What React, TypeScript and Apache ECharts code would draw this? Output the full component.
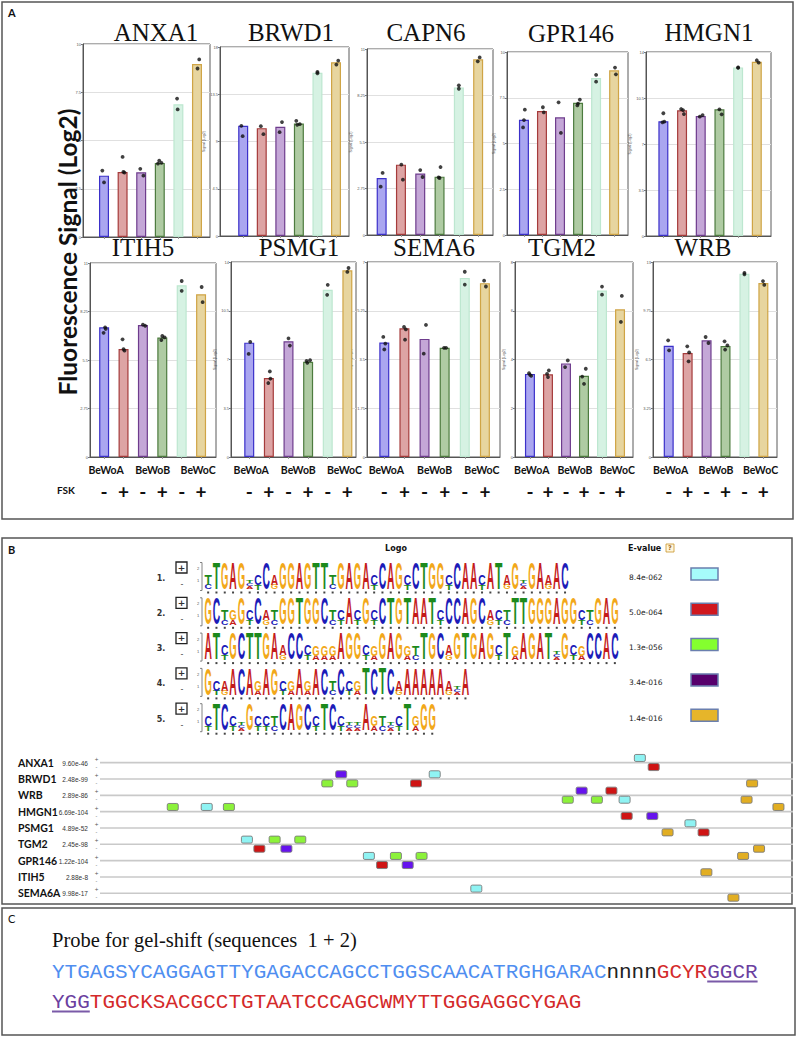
import React, { useEffect, useRef } from "react";
import * as echarts from "echarts";

// ---------------- Panel A data ----------------
const GENES = ["ANXA1", "BRWD1", "CAPN6", "GPR146", "HMGN1", "ITIH5", "PSMG1", "SEMA6", "TGM2", "WRB"];
const GROUPS = ["BeWoA", "BeWoB", "BeWoC"];
const FSK = ["-", "+", "-", "+", "-", "+"];
const Y_MAX = [10, 18, 11, 10, 14, 11, 14, 7, 8, 13];
const Y_STEP = [2.5, 4.5, 2.75, 2.5, 3.5, 2.75, 3.5, 1.75, 2, 3.25];

const ANXA1 = [3.18, 3.37, 3.35, 3.84, 6.88, 8.96];
const BRWD1 = [10.49, 10.27, 10.4, 10.72, 15.54, 16.55];
const CAPN6 = [3.37, 4.16, 3.64, 3.45, 8.73, 10.39];
const GPR146 = [6.3, 6.78, 6.43, 7.23, 8.58, 9.0];
const HMGN1 = [8.73, 9.56, 9.13, 9.64, 12.83, 13.26];
const ITIH5 = [7.35, 6.12, 7.48, 6.78, 9.74, 9.23];
const PSMG1 = [8.21, 5.67, 8.31, 6.83, 12.0, 13.4];
const SEMA6 = [4.11, 4.62, 4.24, 3.92, 6.43, 6.24];
const TGM2 = [3.41, 3.39, 3.84, 3.33, 6.83, 6.06];
const WRB = [7.42, 6.93, 7.78, 7.4, 12.22, 11.6];

// replicate points: [bar index + jitter, value]
const ANXA1_PTS = [[-0.09, 3.44], [0, 2.83], [1, 4.15], [1.04, 3.37], [1.1, 3.34], [1.95, 3.53], [2.12, 3.18], [2.9, 3.8], [2.97, 3.96], [3.09, 3.84], [3.93, 7.17], [3.96, 6.61], [5.12, 9.2], [5.03, 8.73]];
const BRWD1_PTS = [[-0.1, 10.49], [-0.03, 9.51], [0.95, 10.46], [1.09, 9.7], [2.09, 10.85], [1.96, 9.89], [2.86, 10.97], [2.91, 10.59], [3.05, 10.65], [4, 15.62], [4, 15.5], [5.12, 16.71], [5.02, 16.33]];
const CAPN6_PTS = [[0.05, 3.67], [-0.05, 2.86], [1.02, 4.16], [1.1, 3.27], [2, 3.84], [2.12, 3.43], [3.05, 4.02], [2.95, 3.41], [3, 3.37], [4, 8.85], [4, 8.65], [5.08, 10.5], [4.98, 10.27]];
const GPR146_PTS = [[0.05, 6.85], [-0.05, 5.88], [0, 6.28], [1.05, 6.98], [1.1, 6.7], [1.92, 7.25], [2.05, 5.58], [3.1, 7.4], [2.96, 7.08], [3, 7.18], [4, 8.75], [4, 8.38], [5.05, 9.15], [5.1, 8.78]];
const HMGN1_PTS = [[0, 9.34], [-0.05, 8.65], [0.05, 8.7], [0.95, 9.66], [1.1, 9.28], [1.05, 9.58], [1.95, 9.08], [2.1, 9.2], [3, 9.64], [3.12, 9.26], [4, 12.83], [4, 12.8], [5, 13.37], [5.1, 13.19]];
const ITIH5_PTS = [[0.05, 7.35], [-0.03, 7.04], [0.08, 7.26], [0.95, 6.67], [1, 6.12], [1.05, 6.03], [2, 7.5], [2.12, 7.44], [3, 6.86], [2.95, 6.63], [3.12, 6.78], [4, 9.98], [4, 9.42], [5.03, 9.64], [5.08, 8.78]];
const PSMG1_PTS = [[0.05, 8.26], [-0.03, 7.4], [1.05, 6.14], [0.97, 5.31], [1.08, 5.62], [2, 8.52], [2.07, 8.0], [2.92, 6.9], [2.96, 6.76], [3.1, 6.95], [4, 12.36], [3.97, 11.64], [5.06, 13.57], [5, 13.29]];
const SEMA6_PTS = [[-0.05, 4.31], [0, 3.86], [0.05, 4.07], [0.98, 4.67], [1.03, 4.21], [1.07, 4.58], [2.07, 4.74], [1.96, 3.71], [2.97, 3.92], [3.07, 3.92], [4, 6.65], [4, 6.19], [4.96, 6.33], [5.05, 6.12]];
const TGM2_PTS = [[-0.05, 3.44], [0, 3.37], [0.07, 3.33], [1.05, 3.55], [0.95, 3.41], [1, 3.28], [2.1, 3.96], [1.95, 3.69], [3.1, 3.62], [2.9, 3.3], [3, 3.0], [4, 6.99], [4, 6.66], [5.1, 6.61], [5.05, 5.54]];
const WRB_PTS = [[-0.03, 7.78], [0.02, 7.11], [0.98, 7.38], [1.05, 6.38], [1.08, 6.98], [1.95, 8.0], [2.1, 7.6], [2.95, 7.71], [2.98, 7.16], [3.1, 7.44], [4, 12.27], [4, 12.18], [4.98, 11.73], [5.05, 11.47]];

const BARS = [ANXA1, BRWD1, CAPN6, GPR146, HMGN1, ITIH5, PSMG1, SEMA6, TGM2, WRB];
const POINTS = [ANXA1_PTS, BRWD1_PTS, CAPN6_PTS, GPR146_PTS, HMGN1_PTS, ITIH5_PTS, PSMG1_PTS, SEMA6_PTS, TGM2_PTS, WRB_PTS];

// ---------------- Panel B data ----------------
const MOTIF_LOGOS = [
  "tTGAG.cCaGGAGTTtGAGAcCAGcCTGGcCAAcATaG.GAaAC",
  "GCtgGcCatGGTGGCtcAcGcCTGTAATcCCAGCactTTGGGAGGctGAG",
  "ATcGCTTGAaCCcgggAGGcgGAGgtTGCaGTGAGcTgAGAT.GcgCCAC",
  "GcaACAgAGcgAgACtCcgTCTCaAAAAAa.A",
  "cTCc.GcctCAGCcTCc..Agt.cTgGG",
];
const E_VALUES = ["8.4e-062", "5.0e-064", "1.3e-056", "3.4e-016", "1.4e-016"];
const SITE_GENES = ["ANXA1", "BRWD1", "WRB", "HMGN1", "PSMG1", "TGM2", "GPR146", "ITIH5", "SEMA6A"];
const SITE_PVALUES = ["9.60e-46", "2.48e-99", "2.89e-86", "6.69e-104", "4.89e-52", "2.45e-98", "1.22e-104", "2.88e-8", "9.98e-17"];
// [position, gene index, strand (+1 above / -1 below), motif index]
const SITES = [
  [779, 0, 1, 0], [799, 0, -1, 1],
  [328, 1, -1, 2], [348, 1, 1, 3], [364, 1, -1, 2], [456, 1, -1, 1], [483, 1, 1, 0], [941, 1, -1, 4],
  [675, 2, -1, 2], [695, 2, 1, 3], [717, 2, -1, 2], [738, 2, 1, 1], [757, 2, -1, 0], [933, 2, -1, 4],
  [105, 3, 1, 2], [154, 3, 1, 0], [186, 3, 1, 2], [760, 3, -1, 1], [797, 3, -1, 3], [979, 3, 1, 4],
  [819, 4, -1, 4], [852, 4, 1, 0], [871, 4, -1, 1],
  [212, 5, 1, 0], [230, 5, -1, 1], [252, 5, 1, 2], [269, 5, -1, 3], [289, 5, 1, 2], [951, 5, -1, 4],
  [388, 6, 1, 0], [407, 6, -1, 1], [427, 6, 1, 2], [444, 6, -1, 3], [464, 6, 1, 2], [928, 6, 1, 4],
  [875, 7, 1, 4],
  [543, 8, 1, 0], [914, 8, -1, 4],
];

// ---------------- Panel C data ----------------
const SEQ_LINE1 = [
  ["YTGAGSYCAGGAGTTYGAGACCAGCCTGGSCAACATRGHGARAC", "#4f8ef0", 0],
  ["nnnn", "#222222", 0],
  ["GCYR", "#d42a2a", 0],
  ["GGCR", "#6b3fa0", 1],
];
const SEQ_LINE2 = [
  ["YGG", "#6b3fa0", 1],
  ["TGGCKSACGCCTGTAATCCCAGCWMYTTGGGAGGCYGAG", "#d42a2a", 0],
];

// ---------------- styling / layout ----------------
const FILL = ["#aaa6f0", "#dda4a4", "#c4a7d7", "#afcba3", "#d6f2e3", "#e7d59f"];
const EDGE = ["#3b30c9", "#a53b3b", "#6e3c8d", "#4d7b3f", "#bde7d0", "#cfa445"];
const GRID_BOX = [
  [83, 44, 210, 237], [220, 47, 349, 236], [367, 49, 493, 235], [507, 52, 628, 235], [646, 52, 771, 236],
  [90, 263, 216, 457], [231, 262, 356, 457], [367, 262, 500, 457], [515, 262, 633, 457], [653, 262, 777, 457],
];
const X_RANGE = [
  [-1.13, 5.7], [-1.25, 5.7], [-0.76, 5.77], [-0.94, 5.77], [-0.93, 5.76],
  [-0.73, 5.77], [-0.93, 5.44], [-0.86, 5.75], [-0.83, 5.72], [-0.83, 5.72],
];
const TITLE_POS = [[156, 32], [291, 32], [426, 32], [571, 33], [709, 32], [143, 247], [299, 247], [434, 247], [562, 247], [703, 247]];
const GROUP_X = [0.1, 2.5, 4.85];
const LETTER_COLOR: Record<string, string> = { A: "#c41a1a", C: "#1c1cb8", G: "#f2a81a", T: "#1c8a1c" };
const LETTER_NAT_W: Record<string, number> = { A: 8.66, C: 8.66, G: 9.34, T: 7.33 };
const COMP: Record<string, string> = { A: "G", C: "T", G: "A", T: "C" };
const SITE_COLORS = ["#8ff3f3", "#cf1414", "#8cf23a", "#6612ee", "#e2ae22"];
const LEGEND_COLORS = ["#a6fbfb", "#d0181e", "#84ff2e", "#57006c", "#e6b52a"];

const SANS = "Lato";
const CAP = 12 * 0.716;

function columnStack(ch: string) {
  if (ch === ".") return [{ L: "A", h: 3 }, { L: "C", h: 3 }, { L: "T", h: 3 }];
  const U = ch.toUpperCase();
  if (ch === U) return [{ L: U, h: 26 }];
  return [{ L: COMP[U], h: 4.5 }, { L: U, h: 11 }];
}

function txt(x: number, y: number, text: string, o: any = {}) {
  const { align = "left", vAlign = "middle", size = 10, weight = "normal", family = SANS, fill = "#111", rotation, z } = o;
  const el: any = {
    type: "text",
    x,
    y,
    style: {
      text,
      fontSize: size,
      fontWeight: weight,
      fontFamily: family,
      fill,
      align,
      textAlign: align,
      verticalAlign: vAlign,
      textVerticalAlign: vAlign,
    },
  };
  if (rotation !== undefined) el.rotation = rotation;
  if (z !== undefined) el.z = z;
  return el;
}

function buildOption() {
  const grid: any[] = [];
  const xAxis: any[] = [];
  const yAxis: any[] = [];
  const series: any[] = [];

  GENES.forEach((g, k) => {
    const [l, t, r, b] = GRID_BOX[k];
    grid.push({ left: l, top: t, width: r - l, height: b - t, show: true, borderColor: "#5a5a5a", borderWidth: 1, containLabel: false });
    xAxis.push({
      type: "value",
      gridIndex: k,
      min: X_RANGE[k][0],
      max: X_RANGE[k][1],
      axisLine: { show: true, onZero: false, lineStyle: { color: "#555", width: 1 } },
      axisTick: { show: true, customValues: [0, 1, 2, 3, 4, 5], length: 2, lineStyle: { color: "#999" } },
      axisLabel: { show: false },
      splitLine: { show: false },
    });
    yAxis.push({
      type: "value",
      gridIndex: k,
      min: 0,
      max: Y_MAX[k],
      interval: Y_STEP[k],
      axisLine: { show: true, onZero: false, lineStyle: { color: "#555", width: 1 } },
      axisTick: { show: true, length: 2, lineStyle: { color: "#777" } },
      axisLabel: { fontSize: 4, color: "#555", margin: 2 },
      splitLine: { show: true, lineStyle: { color: "#e0e0e0", width: 1 } },
      name: k === 0 || k === 5 ? "" : "Signal (Log2)",
      nameLocation: "middle",
      nameGap: 9,
      nameTextStyle: { fontSize: 3.5, color: "#444" },
    });
    series.push({
      type: "bar",
      xAxisIndex: k,
      yAxisIndex: k,
      barWidth: 10,
      data: BARS[k].map((v, i) => ({ value: [i, v], itemStyle: { color: FILL[i], borderColor: EDGE[i], borderWidth: 1.2 } })),
      z: 2,
    });
    series.push({
      type: "scatter",
      xAxisIndex: k,
      yAxisIndex: k,
      symbolSize: 3.8,
      itemStyle: { color: "#111" },
      data: POINTS[k],
      z: 5,
    });
  });

  // logo grid (index 10)
  grid.push({ left: 204, top: 554.2, width: 50 * 8.3, height: 5 * 35.3 });
  xAxis.push({ type: "value", gridIndex: 10, min: 0, max: 50, show: false });
  yAxis.push({ type: "value", gridIndex: 10, min: 0, max: 5, inverse: true, show: false });
  const logoData: number[][] = [];
  MOTIF_LOGOS.forEach((s, r) => s.split("").forEach((_, c) => logoData.push([c, r])));
  series.push({
    type: "custom",
    coordinateSystem: "cartesian2d",
    xAxisIndex: 10,
    yAxisIndex: 10,
    data: logoData,
    renderItem: (params: any, api: any) => {
      const c = api.value(0);
      const r = api.value(1);
      const ch = MOTIF_LOGOS[r][c];
      const p = api.coord([c + 0.5, r + 1]);
      const cx = p[0];
      const base = p[1];
      const children: any[] = [];
      let y = base;
      for (const s of columnStack(ch)) {
        children.push({
          type: "text",
          x: cx,
          y: y - s.h / 2,
          scaleX: 7.4 / LETTER_NAT_W[s.L],
          scaleY: s.h / CAP,
          style: {
            text: s.L,
            fontSize: 12,
            fontWeight: "bold",
            fontFamily: "Liberation Sans",
            fill: LETTER_COLOR[s.L],
            align: "center",
            verticalAlign: "middle",
          },
        });
        y -= s.h;
      }
      children.push({ type: "rect", shape: { x: cx - 1, y: base + 2, width: 2, height: 2 }, style: { fill: "#444" } });
      if (c === 0) {
        const x0 = api.coord([0, r + 1])[0];
        children.push({
          type: "polyline",
          shape: { points: [[x0 - 4, base - 27], [x0 - 2, base - 27], [x0 - 2, base + 1], [x0 - 4, base + 1]] },
          style: { stroke: "#666", lineWidth: 0.8, fill: "none" },
        });
        children.push({ type: "text", x: x0 - 6, y: base - 21, style: { text: "2", fontSize: 4, fill: "#555", align: "center", verticalAlign: "middle" } });
        children.push({ type: "text", x: x0 - 6, y: base - 9, style: { text: "1", fontSize: 4, fill: "#555", align: "center", verticalAlign: "middle" } });
      }
      return { type: "group", children };
    },
  });

  // sites grid (index 11)
  grid.push({ left: 100, top: 754.5, width: 693, height: 9 * 16.33 });
  xAxis.push({ type: "value", gridIndex: 11, min: 0, max: 1000, show: false });
  yAxis.push({ type: "category", gridIndex: 11, data: SITE_GENES, inverse: true, show: false });
  series.push({
    type: "custom",
    coordinateSystem: "cartesian2d",
    xAxisIndex: 11,
    yAxisIndex: 11,
    data: SITE_GENES.map((_, i) => [0, i]),
    renderItem: (params: any, api: any) => {
      const a = api.coord([0, api.value(1)]);
      const b = api.coord([1000, api.value(1)]);
      return { type: "line", shape: { x1: a[0], y1: a[1], x2: b[0], y2: b[1] }, style: { stroke: "#c9c9c9", lineWidth: 1.6 } };
    },
    z: 1,
  });
  series.push({
    type: "custom",
    coordinateSystem: "cartesian2d",
    xAxisIndex: 11,
    yAxisIndex: 11,
    data: SITES,
    renderItem: (params: any, api: any) => {
      const p = api.coord([api.value(0), api.value(1)]);
      const strand = api.value(2);
      const m = api.value(3);
      return {
        type: "rect",
        shape: { x: p[0] - 5.5, y: strand > 0 ? p[1] - 8.2 : p[1] + 0.9, width: 11, height: 7, r: 1.5 },
        style: { fill: SITE_COLORS[m], stroke: "#7a7a7a", lineWidth: 0.9 },
      };
    },
    z: 3,
  });

  return { animation: false, backgroundColor: "#ffffff", grid, xAxis, yAxis, series };
}

function buildGraphic(chart: any) {
  const g: any[] = [];
  // panel frames
  g.push({ type: "rect", shape: { x: 2, y: 2, width: 791, height: 517 }, style: { fill: "none", stroke: "#555", lineWidth: 1.5 } });
  g.push({ type: "rect", shape: { x: 2, y: 538, width: 790, height: 366 }, style: { fill: "none", stroke: "#555", lineWidth: 1.5 } });
  g.push({ type: "rect", shape: { x: 2, y: 908, width: 793, height: 127 }, style: { fill: "none", stroke: "#555", lineWidth: 1.5 } });
  g.push(txt(8, 12, "A", { size: 11, weight: "bold" }));
  g.push(txt(8, 549, "B", { size: 11, weight: "bold" }));
  g.push(txt(8, 918, "C", { size: 11 }));

  // Panel A texts
  g.push(txt(67, 252, "Fluorescence Signal (Log2)", { size: 24.5, weight: "bold", align: "center", rotation: Math.PI / 2 }));
  GENES.forEach((name, k) => {
    g.push(txt(TITLE_POS[k][0], TITLE_POS[k][1], name, { size: 25, family: "Liberation Serif", align: "center" }));
  });
  g.push(txt(57, 490, "FSK", { size: 10, weight: "bold" }));
  for (let k = 5; k < 10; k++) {
    GROUPS.forEach((grp, j) => {
      const x = chart.convertToPixel({ xAxisIndex: k }, GROUP_X[j]);
      g.push(txt(x, 470, grp, { size: 10.5, weight: "bold", align: "center" }));
    });
    FSK.forEach((s, i) => {
      const x = chart.convertToPixel({ xAxisIndex: k }, i);
      g.push(txt(x, 491, s, { size: 19, weight: "bold", align: "center" }));
    });
  }

  // Panel B header
  g.push(txt(396, 548, "Logo", { size: 8, weight: "bold", family: "DejaVu Sans", align: "center" }));
  g.push(txt(628, 548, "E-value", { size: 8, weight: "bold", family: "DejaVu Sans" }));
  g.push({ type: "rect", shape: { x: 666, y: 544, width: 8, height: 8 }, style: { fill: "#fff6dc", stroke: "#c8962a", lineWidth: 0.8 } });
  g.push(txt(670, 548.3, "?", { size: 6.5, weight: "bold", family: "DejaVu Sans", align: "center", fill: "#a0661a" }));
  MOTIF_LOGOS.forEach((_, r) => {
    const ry = 577 + 35.3 * r;
    g.push(txt(161, ry + 1, `${r + 1}.`, { size: 8, weight: "bold", family: "DejaVu Sans", align: "center", fill: "#333" }));
    g.push({ type: "rect", shape: { x: 176, y: ry - 15, width: 11, height: 11 }, style: { fill: "#fff", stroke: "#222", lineWidth: 1.3 } });
    g.push(txt(181.5, ry - 9.5, "+", { size: 9, weight: "bold", family: "DejaVu Sans", align: "center", fill: "#333" }));
    g.push(txt(182, ry + 7, "-", { size: 8, family: "DejaVu Sans", align: "center", fill: "#444" }));
    g.push(txt(629, ry, E_VALUES[r], { size: 7.5, family: "DejaVu Sans", fill: "#222" }));
    g.push({ type: "rect", shape: { x: 691, y: ry - 9, width: 27, height: 12 }, style: { fill: LEGEND_COLORS[r], stroke: "#6a7fae", lineWidth: 1.5 } });
  });
  SITE_GENES.forEach((name, i) => {
    const y = chart.convertToPixel({ yAxisIndex: 11 }, name);
    g.push(txt(18, y, name, { size: 10.5, weight: "bold" }));
    g.push(txt(88, y + 0.5, SITE_PVALUES[i], { size: 6.5, family: "Liberation Sans", align: "right", fill: "#333" }));
    g.push(txt(96.5, y - 4, "+", { size: 5, family: "DejaVu Sans", align: "center", fill: "#555" }));
    g.push(txt(96.5, y + 4, "-", { size: 5, family: "DejaVu Sans", align: "center", fill: "#555" }));
  });

  // Panel C
  g.push(txt(52, 940, "Probe for gel-shift (sequences  1 + 2)", { size: 20.5, family: "Liberation Serif", fill: "#111" }));
  const CW = 21 * 0.6;
  const drawLine = (segs: any[], y: number) => {
    let idx = 0;
    segs.forEach(([s, color, ul]) => {
      const x = 52 + idx * CW;
      g.push(txt(x, y, s, { size: 21, family: "Liberation Mono", fill: color }));
      if (ul) {
        g.push({ type: "line", shape: { x1: x, y1: y + 9.5, x2: x + s.length * CW, y2: y + 9.5 }, style: { stroke: "#7a5aa8", lineWidth: 2 } });
      }
      idx += s.length;
    });
  };
  drawLine(SEQ_LINE1, 972);
  drawLine(SEQ_LINE2, 1002);
  return g;
}

export default function App() {
  const ref = useRef<HTMLDivElement>(null);
  useEffect(() => {
    const chart = echarts.init(ref.current!, null, { renderer: "svg" });
    chart.setOption(buildOption() as any);
    chart.setOption({ graphic: buildGraphic(chart) } as any);
    return () => chart.dispose();
  }, []);
  return (
    <div
      ref={ref}
      style={{ position: "fixed", left: 0, top: 0, width: 797, height: 1037, background: "#fff" }}
    />
  );
}
